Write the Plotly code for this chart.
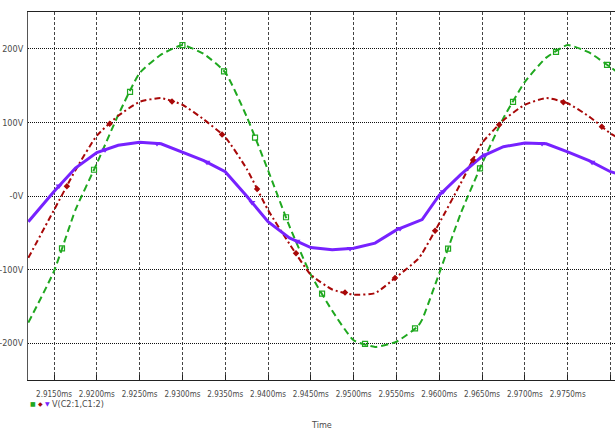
import numpy as np
import plotly.graph_objects as go

# time in ms
t = [2.912, 2.915, 2.9175, 2.920, 2.9225, 2.925, 2.9275, 2.930, 2.9325, 2.935,
     2.9375, 2.940, 2.9425, 2.945, 2.9475, 2.950, 2.9525, 2.955, 2.9575, 2.958,
     2.960, 2.9625, 2.965, 2.9675, 2.970, 2.9725, 2.975, 2.9775, 2.980, 2.9806]

v_green = [-172, -102, -19, 44, 110, 167, 192, 205, 193, 168,
           108, 35, -41, -107, -156, -196, -205, -198, -177, -168,
           -105, -24, 44, 106, 155, 188, 205, 195, 175, 170]
v_red = [-84, -19, 35, 82, 109, 128, 133, 124, 104, 80,
         37, -19, -65, -107, -127, -134, -132, -110, -86, -78,
         -37, 17, 72, 103, 124, 133, 126, 108, 85, 81]
v_blue = [-35, 6, 38, 59, 69, 73, 71, 60, 48, 33,
          0, -35, -57, -70, -73, -71, -64, -46, -35, -32,
          1, 29, 54, 67, 72, 71, 60, 48, 33, 31]

# marker sample times (ms)
mk_green = [2.91593, 2.91967, 2.92388, 2.9300, 2.93486, 2.93848, 2.9421, 2.94631,
            2.95133, 2.95717, 2.96103, 2.96476, 2.96862, 2.97364, 2.9796]
mk_red = [2.9165, 2.9215, 2.92878, 2.93463, 2.93872, 2.94327, 2.94899, 2.95483,
          2.95951, 2.96395, 2.9670, 2.9745, 2.9790]
mk_blue = [2.91558, 2.92096, 2.92703, 2.93287, 2.93813, 2.94339, 2.94958, 2.95542,
           2.96044, 2.96535, 2.97201, 2.97785]

x_ticks = [2.915, 2.920, 2.925, 2.930, 2.935, 2.940, 2.945, 2.950, 2.955, 2.960,
           2.965, 2.970, 2.975, 2.980]
x_text = ["2.9150ms", "2.9200ms", "2.9250ms", "2.9300ms", "2.9350ms", "2.9400ms",
          "2.9450ms", "2.9500ms", "2.9550ms", "2.9600ms", "2.9650ms", "2.9700ms",
          "2.9750ms", ""]
y_ticks = [-200, -100, 0, 100, 200]
y_text = ["-200V", "-100V", "-0V", "100V", "200V"]

GREEN = "#1fa81f"
RED = "#a80808"
BLUE = "#7722ff"
FONT = "DejaVu Sans Condensed"
TXT = "#4a4a4a"

fig = go.Figure()
fig.add_trace(go.Scatter(x=t, y=v_green, mode="lines",
                         line=dict(color=GREEN, width=2, dash="7px,4px",
                                   shape="spline", smoothing=0.5)))
fig.add_trace(go.Scatter(x=t, y=v_red, mode="lines",
                         line=dict(color=RED, width=2, dash="6px,3px,2px,3px",
                                   shape="spline", smoothing=0.5)))
fig.add_trace(go.Scatter(x=t, y=v_blue, mode="lines",
                         line=dict(color=BLUE, width=3)))

fig.add_trace(go.Scatter(x=mk_green, y=np.interp(mk_green, t, v_green), mode="markers",
                         marker=dict(symbol="square-open", size=5, color=GREEN,
                                     line=dict(width=1.2, color=GREEN))))
fig.add_trace(go.Scatter(x=mk_red, y=np.interp(mk_red, t, v_red), mode="markers",
                         marker=dict(symbol="diamond", size=5, color=RED)))
fig.add_trace(go.Scatter(x=mk_blue, y=np.interp(mk_blue, t, v_blue), mode="markers",
                         marker=dict(symbol="triangle-down", size=6, color=BLUE)))

fig.update_layout(
    width=615, height=430,
    margin=dict(l=28, r=0, t=12, b=50),
    paper_bgcolor="white", plot_bgcolor="white",
    showlegend=False,
    font=dict(family=FONT, size=9, color=TXT),
    xaxis=dict(range=[2.91196, 2.98053], tickvals=x_ticks, ticktext=x_text,
               tickangle=0,
               showgrid=True, gridcolor="#444444", griddash="3px,2px", gridwidth=1,
               zeroline=False, showline=True, linecolor="#222222", linewidth=1,
               mirror=True, ticks="inside", ticklen=5, tickcolor="#222222",
               ticklabelstandoff=6,
               tickfont=dict(family=FONT, size=8, color=TXT)),
    yaxis=dict(range=[-250, 250], tickvals=y_ticks, ticktext=y_text,
               showgrid=True, gridcolor="#111111", griddash="1px,1px", gridwidth=1,
               zeroline=False, showline=True, linecolor="#555555", linewidth=1,
               ticks="", ticklabelstandoff=2,
               tickfont=dict(family=FONT, size=9, color=TXT)),
)

anns = [
    dict(text="■", x=0.0025, y=-0.065, font=dict(color=GREEN, size=6, family="DejaVu Sans")),
    dict(text="◆", x=0.0145, y=-0.065, font=dict(color=RED, size=6, family="DejaVu Sans")),
    dict(text="▼", x=0.027, y=-0.065, font=dict(color=BLUE, size=6, family="DejaVu Sans")),
    dict(text="V(C2:1,C1:2)", x=0.039, y=-0.065, font=dict(color=TXT, size=9, family=FONT)),
]
for a in anns:
    fig.add_annotation(xref="paper", yref="paper", xanchor="left", yanchor="middle",
                       showarrow=False, borderpad=0, **a)
fig.add_annotation(text="Time", xref="paper", yref="paper", x=0.5, y=-0.122,
                   xanchor="center", yanchor="middle", showarrow=False,
                   font=dict(color=TXT, size=9, family=FONT))

fig.write_html("out.html")
